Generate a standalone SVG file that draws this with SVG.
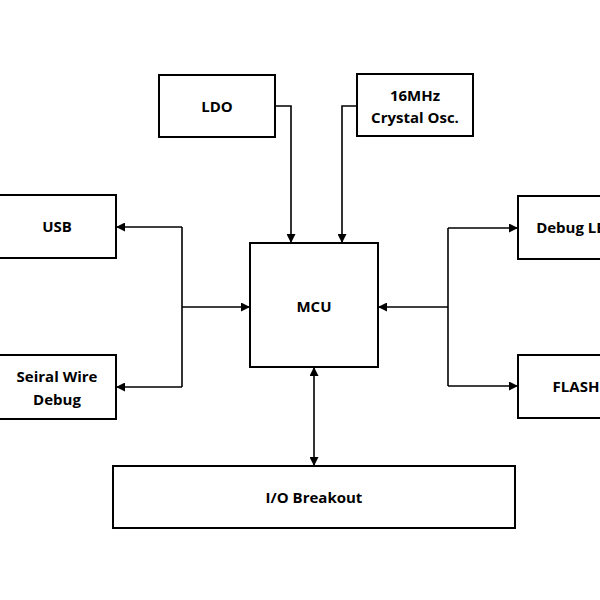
<svg xmlns="http://www.w3.org/2000/svg" width="600" height="600" viewBox="0 0 600 600">
<style>
.box{fill:#fff;stroke:#000;stroke-width:2}
.lbl{font-family:"Open Sans","Liberation Sans",sans-serif;font-weight:bold;font-size:15px;fill:#000;text-anchor:middle;dominant-baseline:central}
.con{fill:none;stroke:#000;stroke-width:1.6}
</style>
<defs>
<marker id="ah" viewBox="0 0 10 10" refX="10" refY="5" markerWidth="9" markerHeight="9" markerUnits="userSpaceOnUse" orient="auto-start-reverse">
<path d="M0,0 L10,5 L0,10 z" fill="#000"/>
</marker>
</defs>
<rect width="600" height="600" fill="#fff"/>
<g id="connectors">
<path class="con" d="M275,106 H291 V243" marker-end="url(#ah)"/>
<path class="con" d="M357,106 H342 V243" marker-end="url(#ah)"/>
<path class="con" d="M182,307 H250" marker-end="url(#ah)"/>
<path class="con" d="M182,227 H116" marker-end="url(#ah)"/>
<path class="con" d="M182,387 H116" marker-end="url(#ah)"/>
<path class="con" d="M182,227 V387"/>
<path class="con" d="M448,307 H378" marker-end="url(#ah)"/>
<path class="con" d="M448,228 H518" marker-end="url(#ah)"/>
<path class="con" d="M448,386 H518" marker-end="url(#ah)"/>
<path class="con" d="M448,228 V386"/>
<path class="con" d="M314,367 V466" marker-start="url(#ah)" marker-end="url(#ah)"/>
</g>
<g id="ldo"><rect class="box" x="159" y="75" width="116" height="62"/><text class="lbl" x="217" y="106">LDO</text></g>
<g id="osc"><rect class="box" x="357" y="74" width="116" height="62"/><text class="lbl" x="415" y="95">16MHz</text><text class="lbl" x="415" y="117">Crystal Osc.</text></g>
<g id="usb"><rect class="box" x="-1" y="195" width="117" height="63"/><text class="lbl" x="57" y="226">USB</text></g>
<g id="swd"><rect class="box" x="-1" y="355" width="117" height="64"/><text class="lbl" x="57" y="376">Seiral Wire</text><text class="lbl" x="57" y="399">Debug</text></g>
<g id="mcu"><rect class="box" x="250" y="243" width="128" height="124"/><text class="lbl" x="314" y="306">MCU</text></g>
<g id="led"><rect class="box" x="518" y="196" width="116" height="63"/><text class="lbl" x="576" y="227">Debug LED</text></g>
<g id="flash"><rect class="box" x="518" y="355" width="116" height="63"/><text class="lbl" x="576" y="386">FLASH</text></g>
<g id="io"><rect class="box" x="113" y="466" width="402" height="62"/><text class="lbl" x="314" y="497">I/O Breakout</text></g>
</svg>
